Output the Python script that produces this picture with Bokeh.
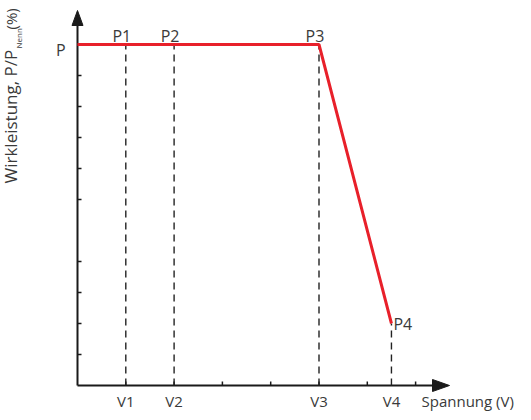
import math
from bokeh.plotting import figure
from bokeh.models import Range1d, ColumnDataSource
from bokeh.core.properties import value
from bokeh.embed import file_html
from bokeh.resources import INLINE

# ---------------- data ----------------
curve_x = [0, 5, 6.5]          # start at axis, V3, V4
curve_y = [11, 11, 2]          # P, P, P4
point_names = ["P1", "P2", "P3"]
point_x = [1, 2, 5]
point_y = [11, 11, 11]
p4_name = "P4"
p4_x = 6.5
p4_y = 2
v_names = ["V1", "V2", "V3", "V4"]
v_x = [1, 2, 5, 6.5]
v_top = [11, 11, 11, 2]
x_ticks = [1, 2, 3, 4, 5, 6, 7]
y_ticks = [1, 2, 3, 4, 6, 7, 8, 9, 10]
p_label = "P"
p_level = 11
x_title = "Spannung (V)"
y_title_main = "Wirkleistung, P/P"
y_title_sub = "Nenn"
y_title_end = "(%)"

# ---------------- layout ----------------
UX = 48.3   # px per x unit
UY = 31.0   # px per y unit
W, H = 523, 412
OX, OY = 77, 385          # origin position inside the figure

def dx(n):   # pixels -> x data units
    return n / UX

def dy(n):   # pixels -> y data units
    return n / UY

FONT = "Open Sans"
TXT = "#3a3a3a"
AX = "#1a1a1a"
FS = "16px"

p = figure(width=W, height=H, output_backend="svg", toolbar_location=None,
           x_range=Range1d(-OX / UX, (W - OX) / UX),
           y_range=Range1d(-(H - OY) / UY, OY / UY),
           x_axis_location=None, y_axis_location=None,
           min_border=0, outline_line_color=None,
           background_fill_color="white", border_fill_color="white")
p.grid.visible = False

x_end = dx(432 - OX)        # axis line end (arrowhead base)
y_end = dy(OY - 25)

# axis lines
p.segment(x0=[0, 0], y0=[0, 0], x1=[x_end, 0], y1=[0, y_end],
          line_color=AX, line_width=2)
# arrowheads
p.patch([x_end, x_end + dx(17), x_end], [dy(6), 0, -dy(6)], color=AX, line_width=1)
p.patch([-dx(5.5), 0, dx(5.5)], [y_end, y_end + dy(15), y_end], color=AX, line_width=1)
# ticks (inside)
p.segment(x0=x_ticks, y0=[0] * len(x_ticks), x1=x_ticks, y1=[dy(4)] * len(x_ticks),
          line_color=AX, line_width=1.5)
p.segment(x0=[0] * len(y_ticks), y0=y_ticks, x1=[dx(4)] * len(y_ticks), y1=y_ticks,
          line_color=AX, line_width=1.5)

# dashed drop lines
p.segment(x0=v_x, y0=[0] * len(v_x), x1=v_x, y1=v_top, line_color="#222222",
          line_width=1.4, line_dash="7 5")

# curve
p.line(curve_x, curve_y, line_color="#e8202a", line_width=3)

tstyle = dict(text_font=value(FONT), text_font_size=FS, text_color=TXT)
bstyle = dict(text_font=value(FONT), text_font_size="15px", text_color=TXT)

# tick labels
p.text(x=v_x, y=[0] * len(v_x), text=v_names, text_align="center",
       text_baseline="middle", y_offset=15, **bstyle)
p.text(x=[0], y=[p_level], text=[p_label], text_align="right",
       text_baseline="middle", x_offset=-12, y_offset=5, **tstyle)

# point labels
src = ColumnDataSource(dict(x=point_x, y=point_y, t=point_names))
p.text(x="x", y="y", text="t", source=src, text_align="center", text_baseline="middle",
       x_offset=-4, y_offset=-9, **tstyle)
p.text(x=[p4_x], y=[p4_y], text=[p4_name], text_align="left", text_baseline="middle",
       x_offset=2, **tstyle)

# axis titles
p.text(x=[x_end], y=[0], text=[x_title], text_align="left", text_baseline="middle",
       x_offset=-11, y_offset=15, **bstyle)
yt_x = -dx(OX - 10)
p.text(x=[yt_x], y=[dy(OY - 183)], text=[y_title_main], angle=math.pi / 2,
       text_align="left", text_baseline="middle",
       text_font=value(FONT), text_font_size="17px", text_color=TXT)
p.text(x=[yt_x + dx(8)], y=[dy(OY - 48)], text=[y_title_sub], angle=math.pi / 2,
       text_align="left", text_baseline="middle",
       text_font=value(FONT), text_font_size="8px", text_color=TXT)
p.text(x=[yt_x], y=[dy(OY - 29)], text=[y_title_end], angle=math.pi / 2,
       text_align="left", text_baseline="middle",
       text_font=value(FONT), text_font_size="15px", text_color=TXT)

open("out.html", "w").write(file_html(p, INLINE))
